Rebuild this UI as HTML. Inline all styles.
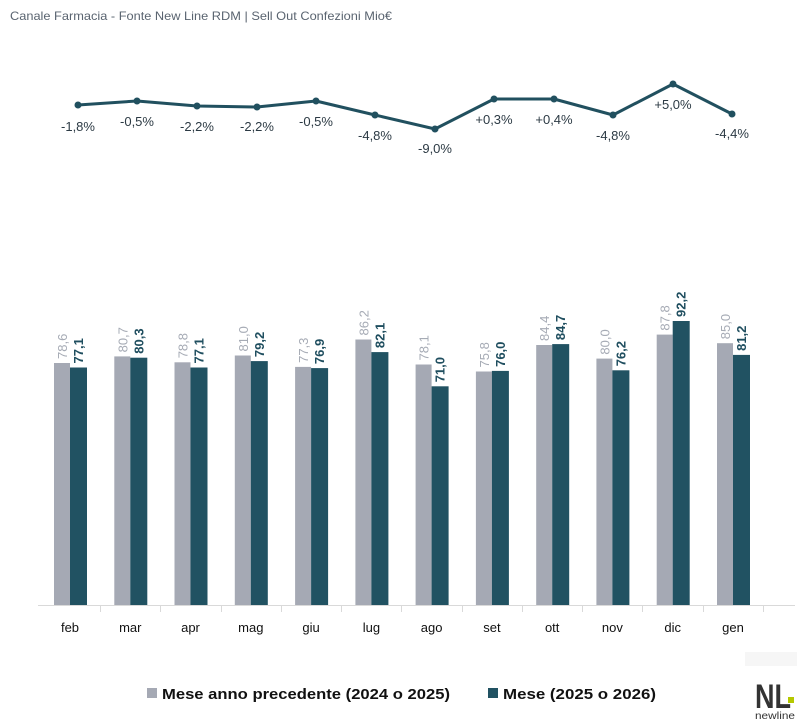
<!DOCTYPE html>
<html><head><meta charset="utf-8"><style>
body{margin:0;background:#fff;}
svg{display:block;font-family:"Liberation Sans",sans-serif;}
</style></head><body>
<svg width="799" height="721" viewBox="0 0 799 721" xmlns="http://www.w3.org/2000/svg">
<text x="10" y="20" font-size="12" fill="#5a6470" textLength="382" lengthAdjust="spacingAndGlyphs">Canale Farmacia - Fonte New Line RDM | Sell Out Confezioni Mio€</text>

<polyline fill="none" stroke="#21505f" stroke-width="3" stroke-linejoin="round" points="78,105 137,101 197,106 257,107 316,101 375,115 435,129 494,99 554,99 613,115 673,84 732,114"/>
<g fill="#21505f">
<circle cx="78" cy="105" r="3.5"/><circle cx="137" cy="101" r="3.5"/><circle cx="197" cy="106" r="3.5"/><circle cx="257" cy="107" r="3.5"/><circle cx="316" cy="101" r="3.5"/><circle cx="375" cy="115" r="3.5"/><circle cx="435" cy="129" r="3.5"/><circle cx="494" cy="99" r="3.5"/><circle cx="554" cy="99" r="3.5"/><circle cx="613" cy="115" r="3.5"/><circle cx="673" cy="84" r="3.5"/><circle cx="732" cy="114" r="3.5"/>
</g>
<g font-size="13" fill="#2c3a44" text-anchor="middle">
<text x="78" y="131">-1,8%</text><text x="137" y="126">-0,5%</text><text x="197" y="131">-2,2%</text><text x="257" y="131">-2,2%</text><text x="316" y="126">-0,5%</text><text x="375" y="140">-4,8%</text><text x="435" y="153">-9,0%</text><text x="494" y="124">+0,3%</text><text x="554" y="124">+0,4%</text><text x="613" y="140">-4,8%</text><text x="673" y="109">+5,0%</text><text x="732" y="138">-4,4%</text>
</g>

<g fill="#a5a9b4">
<rect x="54" y="363" width="16" height="242"/>
<rect x="114.3" y="356.4" width="16" height="248.6"/>
<rect x="174.5" y="362.3" width="16" height="242.7"/>
<rect x="234.8" y="355.5" width="16" height="249.5"/>
<rect x="295.1" y="366.9" width="16" height="238.1"/>
<rect x="355.4" y="339.5" width="16" height="265.5"/>
<rect x="415.6" y="364.5" width="16" height="240.5"/>
<rect x="475.9" y="371.5" width="16" height="233.5"/>
<rect x="536.2" y="345" width="16" height="260"/>
<rect x="596.4" y="358.6" width="16" height="246.4"/>
<rect x="656.7" y="334.6" width="16" height="270.4"/>
<rect x="717" y="343.2" width="16" height="261.8"/>
</g>
<g fill="#215262">
<rect x="70" y="367.5" width="17" height="237.5"/>
<rect x="130.3" y="357.7" width="17" height="247.3"/>
<rect x="190.5" y="367.5" width="17" height="237.5"/>
<rect x="250.8" y="361.1" width="17" height="243.9"/>
<rect x="311.1" y="368.1" width="17" height="236.9"/>
<rect x="371.4" y="352.1" width="17" height="252.9"/>
<rect x="431.6" y="386.3" width="17" height="218.7"/>
<rect x="491.9" y="370.9" width="17" height="234.1"/>
<rect x="552.2" y="344.1" width="17" height="260.9"/>
<rect x="612.4" y="370.3" width="17" height="234.7"/>
<rect x="672.7" y="321" width="17" height="284"/>
<rect x="733" y="354.9" width="17" height="250.1"/>
</g>
<g font-size="13" fill="#a6abb5">
<text transform="translate(67,359) rotate(-90)">78,6</text>
<text transform="translate(127.3,352.4) rotate(-90)">80,7</text>
<text transform="translate(187.5,358.3) rotate(-90)">78,8</text>
<text transform="translate(247.8,351.5) rotate(-90)">81,0</text>
<text transform="translate(308.1,362.9) rotate(-90)">77,3</text>
<text transform="translate(368.4,335.5) rotate(-90)">86,2</text>
<text transform="translate(428.6,360.5) rotate(-90)">78,1</text>
<text transform="translate(488.9,367.5) rotate(-90)">75,8</text>
<text transform="translate(549.2,341) rotate(-90)">84,4</text>
<text transform="translate(609.4,354.6) rotate(-90)">80,0</text>
<text transform="translate(669.7,330.6) rotate(-90)">87,8</text>
<text transform="translate(730,339.2) rotate(-90)">85,0</text>
</g>
<g font-size="13" fill="#1f4e5f" font-weight="bold">
<text transform="translate(83,363.5) rotate(-90)">77,1</text>
<text transform="translate(143.3,353.7) rotate(-90)">80,3</text>
<text transform="translate(203.5,363.5) rotate(-90)">77,1</text>
<text transform="translate(263.8,357.1) rotate(-90)">79,2</text>
<text transform="translate(324.1,364.1) rotate(-90)">76,9</text>
<text transform="translate(384.4,348.1) rotate(-90)">82,1</text>
<text transform="translate(444.6,382.3) rotate(-90)">71,0</text>
<text transform="translate(504.9,366.9) rotate(-90)">76,0</text>
<text transform="translate(565.2,340.1) rotate(-90)">84,7</text>
<text transform="translate(625.4,366.3) rotate(-90)">76,2</text>
<text transform="translate(685.7,317) rotate(-90)">92,2</text>
<text transform="translate(746,350.9) rotate(-90)">81,2</text>
</g>

<line x1="38" y1="605.5" x2="795" y2="605.5" stroke="#d9d9d9" stroke-width="1"/>
<g stroke="#d9d9d9" stroke-width="1">
<line x1="100.5" y1="605" x2="100.5" y2="612"/><line x1="160.5" y1="605" x2="160.5" y2="612"/><line x1="221.5" y1="605" x2="221.5" y2="612"/><line x1="281.5" y1="605" x2="281.5" y2="612"/><line x1="341.5" y1="605" x2="341.5" y2="612"/><line x1="401.5" y1="605" x2="401.5" y2="612"/><line x1="462.5" y1="605" x2="462.5" y2="612"/><line x1="522.5" y1="605" x2="522.5" y2="612"/><line x1="582.5" y1="605" x2="582.5" y2="612"/><line x1="642.5" y1="605" x2="642.5" y2="612"/><line x1="703.5" y1="605" x2="703.5" y2="612"/><line x1="763.5" y1="605" x2="763.5" y2="612"/>
</g>
<g font-size="13" fill="#111" text-anchor="middle">
<text x="70" y="632">feb</text><text x="130.3" y="632">mar</text><text x="190.5" y="632">apr</text><text x="250.8" y="632">mag</text><text x="311.1" y="632">giu</text><text x="371.4" y="632">lug</text><text x="431.6" y="632">ago</text><text x="491.9" y="632">set</text><text x="552.2" y="632">ott</text><text x="612.4" y="632">nov</text><text x="672.7" y="632">dic</text><text x="733" y="632">gen</text>
</g>

<rect x="147" y="688" width="10" height="10" fill="#a5a9b4"/>
<text x="162" y="699" font-size="15" font-weight="bold" fill="#111" textLength="288" lengthAdjust="spacingAndGlyphs">Mese anno precedente (2024 o 2025)</text>
<rect x="488" y="688" width="10" height="10" fill="#215262"/>
<text x="503" y="699" font-size="15" font-weight="bold" fill="#111" textLength="153" lengthAdjust="spacingAndGlyphs">Mese (2025 o 2026)</text>

<rect x="745" y="652" width="52" height="14" fill="#f6f6f6"/>
<text x="755" y="708" font-size="34" font-weight="bold" fill="#333" textLength="36" lengthAdjust="spacingAndGlyphs">NL</text>
<rect x="788" y="697" width="6" height="6" fill="#b5c800"/>
<text x="755" y="719" font-size="10" fill="#333" textLength="40" lengthAdjust="spacingAndGlyphs">newline</text>
</svg>
</body></html>
